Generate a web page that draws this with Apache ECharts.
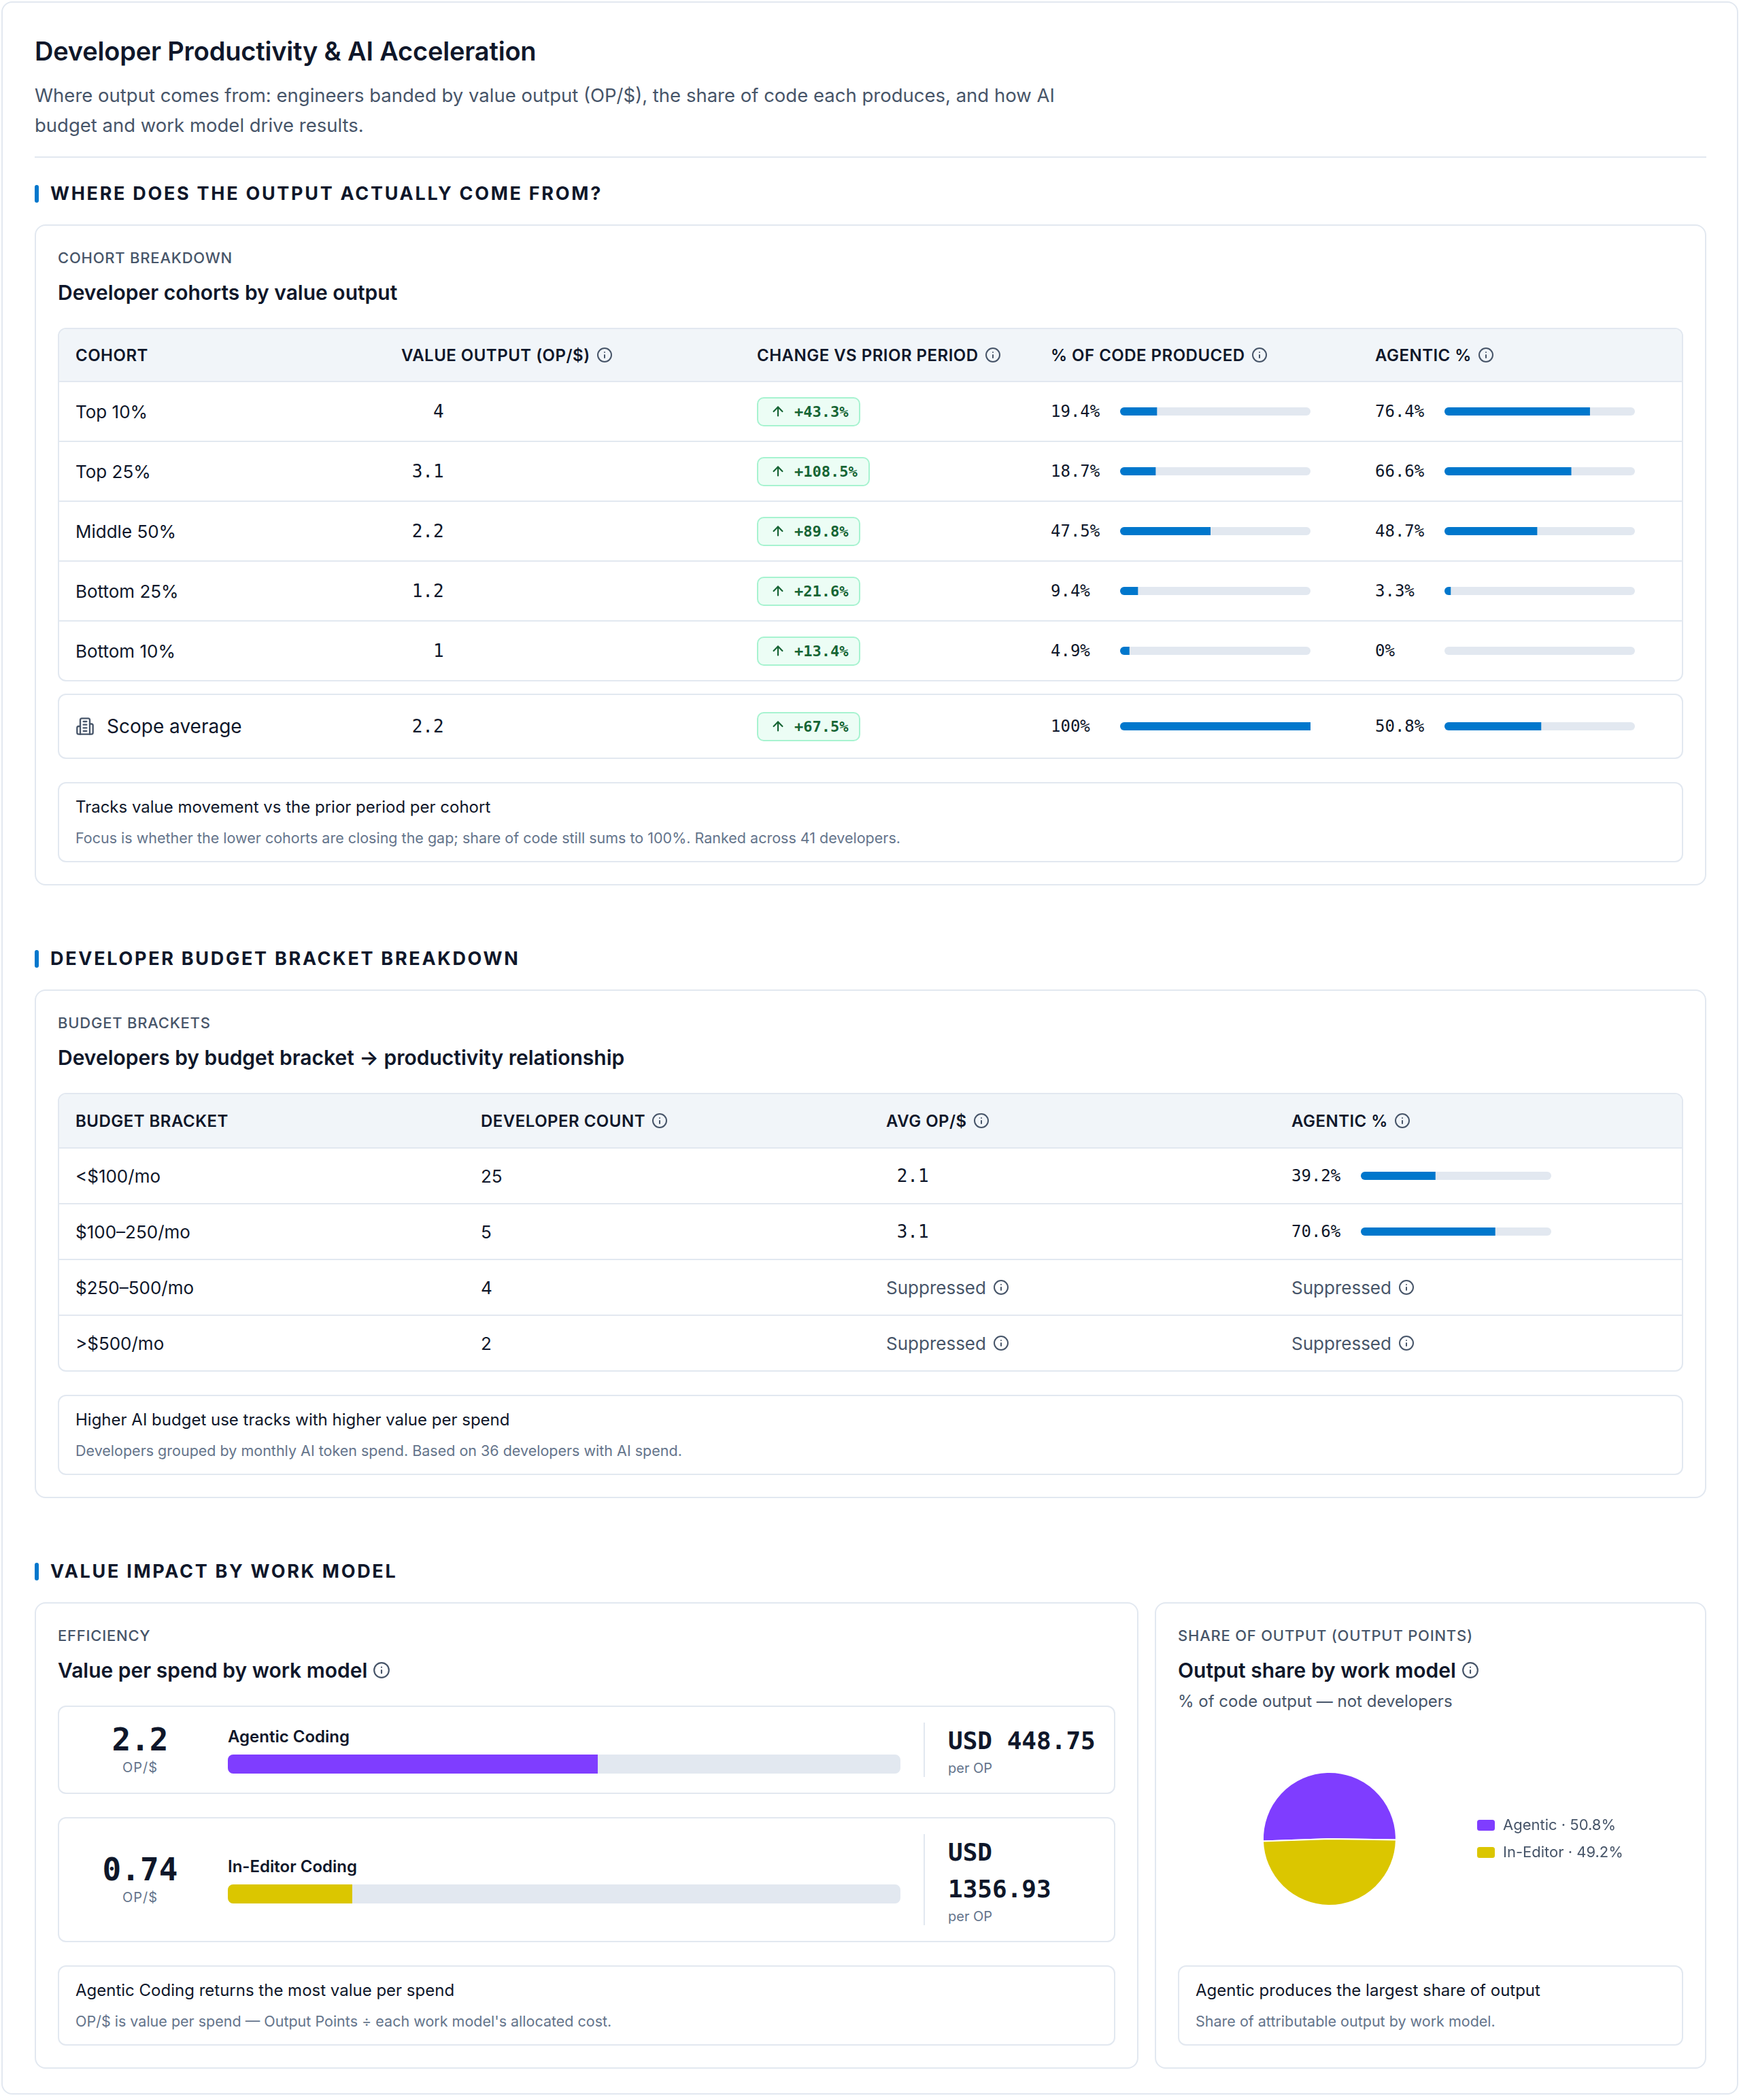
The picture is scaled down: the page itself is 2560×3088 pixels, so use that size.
<!DOCTYPE html>
<html>
<head>
<meta charset="utf-8">
<title>Developer Productivity &amp; AI Acceleration</title>
<script src="https://cdn.jsdelivr.net/npm/echarts@6/dist/echarts.min.js"></script>
<style>
* { box-sizing: border-box; }
html, body { margin: 0; background: #fff; overflow: hidden; }
body { font-family: Inter, "Noto Sans", sans-serif; color: #0f172a; }
.mono { font-family: "DejaVu Sans Mono", "Liberation Mono", monospace; }

.page { position: absolute; left: 2px; top: 2px; width: 2554px; border: 2px solid #e2e8f0; border-radius: 16px; padding: 45px 45px 36px 47px; }
h1 { margin: 0; font-size: 38px; line-height: 52px; font-weight: 600; letter-spacing: -0.005em; }
.sub { margin: 17px 0 0; font-size: 27.5px; line-height: 44px; color: #475569; max-width: 1560px; }
.rule { margin-top: 24px; height: 2px; background: #e2e8f0; }

.sec-h { display: flex; align-items: center; margin-top: 90px; font-size: 27px; line-height: 36px; font-weight: 700; letter-spacing: 0.1em; }
.sec-h.first { margin-top: 35px; }
.sec-h:before { content: ""; width: 6px; height: 26px; border-radius: 3px; background: #0077cc; margin-right: 17px; }

.card { margin-top: 27px; border: 2px solid #e2e8f0; border-radius: 16px; padding: 32px; }
.card-label { font-size: 22px; line-height: 30px; letter-spacing: 0.035em; color: #475569; font-weight: 500; }
.card-title { margin-top: 16px; font-size: 30px; line-height: 40px; font-weight: 600; display: flex; align-items: center; gap: 8px; }
.card-sub { margin-top: 10px; font-size: 24px; line-height: 32px; color: #475569; }

.tbl { margin-top: 32px; border: 2px solid #e2e8f0; border-radius: 12px; overflow: hidden; }
.tr { display: grid; border-bottom: 2px solid #e2e8f0; }
.tr:last-child { border-bottom: 0; }
.cohort .tr, .scope { grid-template-columns: 479px 523px 432px 477px 473px; }
.bracket .tr { grid-template-columns: 596px 596px 596px 596px; }
.th { background: #f1f5f9; height: 78px; }
.bracket .th { height: 80px; }
.cohort .td { height: 88px; }
.cohort .td:last-child { height: 86px; }
.bracket .td { height: 82px; }
.bracket .td:last-child { height: 80px; }
.cell { display: flex; align-items: center; padding: 0 24px; font-size: 26px; }
.th .cell { font-size: 24px; font-weight: 600; letter-spacing: 0.02em; gap: 9px; }
.ico { color: #475569; flex: none; }
.num { display: inline-block; min-width: 4ch; text-align: right; font-size: 26px; }
.pct { display: inline-block; width: 102px; font-size: 24px; flex: none; }
.bar { width: 280px; height: 12px; flex: none; }
.badge { display: inline-flex; align-items: center; gap: 13px; height: 43px; padding: 0 16px 0 18px; border: 2px solid #a7f3d0; background: #ecfdf5; border-radius: 10px; color: #166534; font-size: 22px; font-weight: 700; }
.badge svg { color: #166534; }
.muted { color: #475569; gap: 10px; }

.scope { display: grid; margin-top: 18px; height: 96px; border: 2px solid #e2e8f0; border-radius: 12px; }
.scope .name { font-size: 28px; gap: 18px; }

.note { margin-top: 34px; border: 2px solid #e2e8f0; border-radius: 12px; padding: 19px 24px 20px; }
.note .n1 { font-size: 24px; line-height: 32px; }
.note .n2 { margin-top: 15px; font-size: 21.5px; line-height: 28px; color: #64748b; }

.split { display: grid; grid-template-columns: 2fr 1fr; gap: 24px; margin-top: 27px; }
.split .card { margin-top: 0; }
.flex-col { display: flex; flex-direction: column; }
.eff-row { display: flex; align-items: center; margin-top: 32px; border: 2px solid #e2e8f0; border-radius: 12px; padding: 23px 24px; }
.eff-row + .eff-row { margin-top: 34px; }
.eff-num { width: 190px; flex: none; text-align: center; }
.eff-num .big { font-size: 46px; line-height: 48px; font-weight: 700; }
.eff-num .unit { margin-top: 4px; font-size: 20px; line-height: 26px; color: #64748b; letter-spacing: 0.05em; }
.eff-mid { flex: 1; margin: 0 34px; min-width: 0; }
.eff-name { font-size: 24px; line-height: 32px; font-weight: 600; }
.eff-bar { margin-top: 10px; height: 28px; }
.eff-cost { width: 256px; flex: none; border-left: 2px solid #e2e8f0; padding-left: 34px; }
.eff-cost .usd { font-size: 36px; line-height: 54px; font-weight: 700; }
.eff-cost .per { font-size: 20px; line-height: 26px; color: #64748b; }
#share-pie { flex: 1; min-height: 0; }
.flex-col .note { margin-top: 0; }
</style>
</head>
<body>
<div class="page">
  <h1>Developer Productivity &amp; AI Acceleration</h1>
  <p class="sub">Where output comes from: engineers banded by value output (OP/$), the share of code each produces, and how AI budget and work model drive results.</p>
  <div class="rule"></div>

  <div class="sec-h first">WHERE DOES THE OUTPUT ACTUALLY COME FROM?</div>
  <div class="card">
    <div class="card-label">COHORT BREAKDOWN</div>
    <div class="card-title">Developer cohorts by value output</div>
    <div class="tbl cohort" id="cohort-table"></div>
    <div class="scope" id="scope-row"></div>
    <div class="note">
      <div class="n1">Tracks value movement vs the prior period per cohort</div>
      <div class="n2">Focus is whether the lower cohorts are closing the gap; share of code still sums to 100%. Ranked across 41 developers.</div>
    </div>
  </div>

  <div class="sec-h">DEVELOPER BUDGET BRACKET BREAKDOWN</div>
  <div class="card">
    <div class="card-label">BUDGET BRACKETS</div>
    <div class="card-title">Developers by budget bracket → productivity relationship</div>
    <div class="tbl bracket" id="bracket-table"></div>
    <div class="note">
      <div class="n1">Higher AI budget use tracks with higher value per spend</div>
      <div class="n2">Developers grouped by monthly AI token spend. Based on 36 developers with AI spend.</div>
    </div>
  </div>

  <div class="sec-h">VALUE IMPACT BY WORK MODEL</div>
  <div class="split">
    <div class="card">
      <div class="card-label">EFFICIENCY</div>
      <div class="card-title">Value per spend by work model <span class="i" data-size="26"></span></div>
      <div id="eff-rows"></div>
      <div class="note">
        <div class="n1">Agentic Coding returns the most value per spend</div>
        <div class="n2">OP/$ is value per spend — Output Points ÷ each work model's allocated cost.</div>
      </div>
    </div>
    <div class="card flex-col">
      <div class="card-label">SHARE OF OUTPUT (OUTPUT POINTS)</div>
      <div class="card-title">Output share by work model <span class="i" data-size="26"></span></div>
      <div class="card-sub">% of code output — not developers</div>
      <div id="share-pie"></div>
      <div class="note">
        <div class="n1">Agentic produces the largest share of output</div>
        <div class="n2">Share of attributable output by work model.</div>
      </div>
    </div>
  </div>
</div>

<script>
// cohorts
var cohortCols = ['COHORT', 'VALUE OUTPUT (OP/$)', 'CHANGE VS PRIOR PERIOD', '% OF CODE PRODUCED', 'AGENTIC %'];
var cohorts = ['Top 10%', 'Top 25%', 'Middle 50%', 'Bottom 25%', 'Bottom 10%'];
var cohortOpd = [4, 3.1, 2.2, 1.2, 1];
var cohortChange = [43.3, 108.5, 89.8, 21.6, 13.4];
var cohortCodeShare = [19.4, 18.7, 47.5, 9.4, 4.9];
var cohortAgentic = [76.4, 66.6, 48.7, 3.3, 0];
var scopeOpd = 2.2, scopeChange = 67.5, scopeCodeShare = 100, scopeAgentic = 50.8;

// budget brackets (null = suppressed)
var bracketCols = ['BUDGET BRACKET', 'DEVELOPER COUNT', 'AVG OP/$', 'AGENTIC %'];
var brackets = ['<$100/mo', '$100–250/mo', '$250–500/mo', '>$500/mo'];
var bracketDevs = [25, 5, 4, 2];
var bracketOpd = [2.1, 3.1, null, null];
var bracketAgentic = [39.2, 70.6, null, null];

// work models
var workModels = ['Agentic Coding', 'In-Editor Coding'];
var workOpd = [2.2, 0.74];
var workCostPerOp = [448.75, 1356.93];
var opdMax = 4;
var shareNames = ['Agentic', 'In-Editor'];
var shareValues = [50.8, 49.2];

var BLUE = '#0077cc', PURPLE = '#7f3dff', YELLOW = '#dbc600', TRACK = '#e2e8f0';

function info(size) {
    return '<svg class="ico" width="' + size + '" height="' + size + '" viewBox="0 0 24 24" fill="none" stroke="currentColor" stroke-width="2" stroke-linecap="round" stroke-linejoin="round"><circle cx="12" cy="12" r="10"/><path d="M12 16v-4"/><path d="M12 8h.01"/></svg>';
}
var ARROW = '<svg width="22" height="22" viewBox="0 0 24 24" fill="none" stroke="currentColor" stroke-width="2.4" stroke-linecap="round" stroke-linejoin="round"><path d="m5 12 7-7 7 7"/><path d="M12 19V5"/></svg>';
var BUILDING = '<svg class="ico" width="28" height="28" viewBox="0 0 24 24" fill="none" stroke="currentColor" stroke-width="2" stroke-linecap="round" stroke-linejoin="round"><path d="M6 22V4a2 2 0 0 1 2-2h8a2 2 0 0 1 2 2v18Z"/><path d="M6 12H4a2 2 0 0 0-2 2v6a2 2 0 0 0 2 2h2"/><path d="M18 9h2a2 2 0 0 1 2 2v9a2 2 0 0 1-2 2h-2"/><path d="M10 6h4"/><path d="M10 10h4"/><path d="M10 14h4"/><path d="M10 18h4"/></svg>';

function badge(v) {
    return '<span class="badge mono">' + ARROW + '+' + v + '%</span>';
}
function pctCell(id, v) {
    return '<div class="cell"><span class="pct mono">' + v + '%</span><div class="bar" id="' + id + '"></div></div>';
}
function headRow(cols, withInfo) {
    var h = '<div class="tr th">';
    cols.forEach(function(c, i) {
        h += '<div class="cell">' + c + (withInfo.indexOf(i) > -1 ? info(24) : '') + '</div>';
    });
    return h + '</div>';
}

// thin progress bar drawn by echarts
function miniBar(el, value, max, color, h, r) {
    var chart = echarts.init(el);
    chart.setOption({
        animation: false,
        grid: {left: 0, right: 0, top: 0, bottom: 0},
        xAxis: {type: 'value', min: 0, max: max, show: false},
        yAxis: {type: 'category', data: [''], show: false},
        series: [{
            type: 'bar',
            data: [value],
            barWidth: h,
            silent: true,
            showBackground: true,
            backgroundStyle: {color: TRACK, borderRadius: r},
            itemStyle: {color: color, borderRadius: [r, 0, 0, r]}
        }]
    });
}

// cohort table
var html = headRow(cohortCols, [1, 2, 3, 4]);
cohorts.forEach(function(name, i) {
    html += '<div class="tr td">'
        + '<div class="cell">' + name + '</div>'
        + '<div class="cell"><span class="num mono">' + cohortOpd[i] + '</span></div>'
        + '<div class="cell">' + badge(cohortChange[i]) + '</div>'
        + pctCell('code-bar-' + i, cohortCodeShare[i])
        + pctCell('agentic-bar-' + i, cohortAgentic[i])
        + '</div>';
});
document.getElementById('cohort-table').innerHTML = html;

document.getElementById('scope-row').innerHTML =
    '<div class="cell name">' + BUILDING + 'Scope average</div>'
    + '<div class="cell"><span class="num mono">' + scopeOpd + '</span></div>'
    + '<div class="cell">' + badge(scopeChange) + '</div>'
    + pctCell('code-bar-scope', scopeCodeShare)
    + pctCell('agentic-bar-scope', scopeAgentic);

cohorts.forEach(function(name, i) {
    miniBar(document.getElementById('code-bar-' + i), cohortCodeShare[i], 100, BLUE, 12, 6);
    miniBar(document.getElementById('agentic-bar-' + i), cohortAgentic[i], 100, BLUE, 12, 6);
});
miniBar(document.getElementById('code-bar-scope'), scopeCodeShare, 100, BLUE, 12, 6);
miniBar(document.getElementById('agentic-bar-scope'), scopeAgentic, 100, BLUE, 12, 6);

// budget bracket table
var suppressed = '<div class="cell muted">Suppressed' + info(24) + '</div>';
html = headRow(bracketCols, [1, 2, 3]);
brackets.forEach(function(name, i) {
    html += '<div class="tr td">'
        + '<div class="cell">' + name.replace('<', '&lt;').replace('>', '&gt;') + '</div>'
        + '<div class="cell">' + bracketDevs[i] + '</div>'
        + (bracketOpd[i] === null ? suppressed : '<div class="cell"><span class="num mono">' + bracketOpd[i] + '</span></div>')
        + (bracketAgentic[i] === null ? suppressed : pctCell('bracket-bar-' + i, bracketAgentic[i]))
        + '</div>';
});
document.getElementById('bracket-table').innerHTML = html;
brackets.forEach(function(name, i) {
    if (bracketAgentic[i] !== null) {
        miniBar(document.getElementById('bracket-bar-' + i), bracketAgentic[i], 100, BLUE, 12, 6);
    }
});

// efficiency rows
var effColors = [PURPLE, YELLOW];
html = '';
workModels.forEach(function(name, i) {
    html += '<div class="eff-row">'
        + '<div class="eff-num"><div class="big mono">' + workOpd[i] + '</div><div class="unit">OP/$</div></div>'
        + '<div class="eff-mid"><div class="eff-name">' + name + '</div><div class="eff-bar" id="eff-bar-' + i + '"></div></div>'
        + '<div class="eff-cost"><div class="usd mono">USD ' + workCostPerOp[i].toFixed(2) + '</div><div class="per">per OP</div></div>'
        + '</div>';
});
document.getElementById('eff-rows').innerHTML = html;

document.querySelectorAll('.i').forEach(function(el) {
    el.outerHTML = info(+el.getAttribute('data-size'));
});

workModels.forEach(function(name, i) {
    miniBar(document.getElementById('eff-bar-' + i), workOpd[i], opdMax, effColors[i], 28, 8);
});

// output share pie
var pie = echarts.init(document.getElementById('share-pie'));
pie.setOption({
    animation: false,
    color: [PURPLE, YELLOW],
    legend: {
        orient: 'vertical',
        left: 433,
        top: 'middle',
        icon: 'roundRect',
        itemWidth: 28,
        itemHeight: 18,
        itemGap: 18,
        textStyle: {fontFamily: 'Inter', fontSize: 22, color: '#475569', padding: [0, 0, 0, 6]},
        formatter: function(n) {
            return n + ' · ' + shareValues[shareNames.indexOf(n)] + '%';
        }
    },
    series: [{
        type: 'pie',
        radius: 98,
        center: ['30%', '50%'],
        startAngle: 182,
        silent: true,
        label: {show: false},
        labelLine: {show: false},
        itemStyle: {borderColor: '#fff', borderWidth: 2},
        data: shareNames.map(function(n, i) {
            return {name: n, value: shareValues[i]};
        })
    }]
});
</script>
</body>
</html>
